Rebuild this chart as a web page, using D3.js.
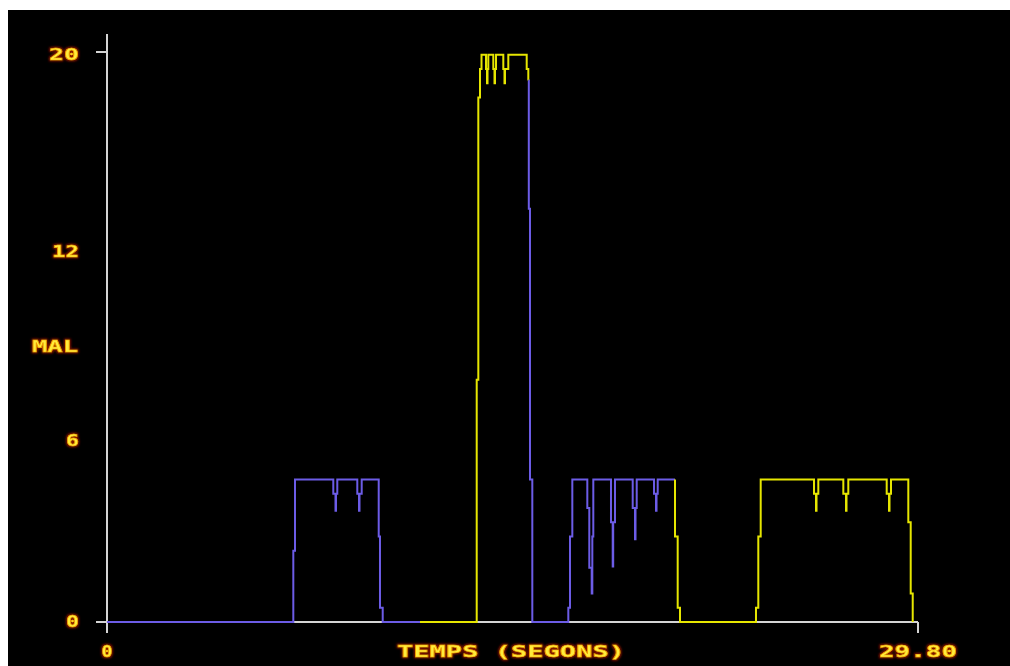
<!DOCTYPE html>
<html>
<head>
<meta charset="utf-8">
<script src="https://cdn.jsdelivr.net/npm/d3@7"></script>
<style>
  html, body { margin: 0; padding: 0; background: #fff; }
  svg { display: block; }
</style>
</head>
<body>
<div id="vis-canvas"></div>
<script>
const outerWidth = 1010;
const outerHeight = 666;

// ** data: [temps (s), mal] -- one array per stretch of the trace, by colour
const blau1 = [[0, 0], [6.846, 2.5], [6.908, 5], [8.315, 4.5], [8.396, 3.9], [8.415, 4.5],
    [8.462, 5], [9.197, 4.5], [9.260, 3.9], [9.278, 4.5], [9.359, 5], [9.984, 3.0],
    [10.031, 0.5], [10.131, 0], [11.501, 0]];
const groc1 = [[11.501, 0], [13.585, 8.5], [13.644, 18.4], [13.706, 19.4], [13.761, 19.9],
    [13.926, 19.4], [13.963, 18.9], [13.982, 19.4], [14.011, 19.9],
    [14.195, 19.4], [14.239, 18.9], [14.257, 19.4], [14.294, 19.9],
    [14.562, 19.4], [14.606, 18.9], [14.624, 19.4], [14.746, 19.9],
    [15.422, 19.4], [15.481, 19.0]];
const blau2 = [[15.481, 19.0], [15.499, 14.5], [15.543, 5], [15.628, 0], [16.951, 0.5],
    [17.013, 3.0], [17.098, 5], [17.649, 4.0], [17.722, 1.9], [17.810, 1.0], [17.833, 3.0],
    [17.869, 5], [18.519, 3.5], [18.582, 1.95], [18.600, 3.5], [18.666, 5],
    [19.317, 4.0], [19.401, 2.9], [19.420, 4.0], [19.464, 5],
    [20.100, 4.5], [20.173, 3.9], [20.192, 4.5], [20.236, 5], [20.871, 5]];
const groc2 = [[20.871, 5], [20.871, 3.0], [20.970, 0.5], [21.055, 0], [23.847, 0.5],
    [23.932, 3.0], [24.020, 5], [25.979, 4.5], [26.052, 3.9], [26.071, 4.5], [26.137, 5],
    [27.056, 4.5], [27.155, 3.9], [27.173, 4.5], [27.239, 5],
    [28.650, 4.5], [28.735, 3.9], [28.753, 4.5], [28.808, 5],
    [29.444, 3.5], [29.532, 1.0], [29.606, 0]];

const tempsMax = 29.80;
const malMax = 20;
// y labels as the original program printed them, with the value level where each sits
const yLabels = ["0", "6", "12", "20"];
const yLabelLevels = [0, 6.35, 13.0, 20];
const xLabels = ["0", "29.80"];

const blue = "#6c5ce6";
const yellow = "#e6e600";
const axisColor = "#d4d4d4";

const svg = d3.select("#vis-canvas").append("svg")
    .attr("width", outerWidth)
    .attr("height", outerHeight);

// glow for the old-screen lettering
const defs = svg.append("defs");
const glow = defs.append("filter").attr("id", "glow")
    .attr("x", "-20%").attr("y", "-50%").attr("width", "140%").attr("height", "200%");
glow.append("feMorphology").attr("in", "SourceAlpha").attr("operator", "dilate")
    .attr("radius", 1.2).attr("result", "thick");
glow.append("feGaussianBlur").attr("in", "thick").attr("stdDeviation", 1).attr("result", "blur");
glow.append("feFlood").attr("flood-color", "#8a1400");
glow.append("feComposite").attr("in2", "blur").attr("operator", "in").attr("result", "halo");
const merge = glow.append("feMerge");
merge.append("feMergeNode").attr("in", "halo");
merge.append("feMergeNode").attr("in", "SourceGraphic");

// black screen, leaves a white strip top and left
svg.append("rect")
    .attr("x", 8).attr("y", 10)
    .attr("width", outerWidth - 8).attr("height", outerHeight - 10)
    .attr("fill", "#000");

const x = d3.scaleLinear().domain([0, tempsMax]).range([107, 918]);
const y = d3.scaleLinear().domain([0, malMax]).range([622, 52]);

// ** axes
const axes = svg.append("g")
    .attr("stroke", axisColor)
    .attr("stroke-width", 2)
    .attr("fill", "none");

axes.append("line")   // y axis
    .attr("x1", x(0)).attr("x2", x(0))
    .attr("y1", y(malMax) - 18).attr("y2", y(0) + 11);
axes.append("line")   // x axis
    .attr("x1", x(0)).attr("x2", x(tempsMax))
    .attr("y1", y(0)).attr("y2", y(0));
axes.append("line")   // end tick
    .attr("x1", x(tempsMax)).attr("x2", x(tempsMax))
    .attr("y1", y(0)).attr("y2", y(0) + 11);
axes.selectAll(".ytick")
    .data([0, malMax])
    .join("line")
    .attr("class", "ytick")
    .attr("x1", x(0) - 11).attr("x2", x(0))
    .attr("y1", d => y(d)).attr("y2", d => y(d));

// ** trace
const line = d3.line()
    .x(d => x(d[0]))
    .y(d => y(d[1]))
    .curve(d3.curveStepAfter);

const segments = [
    {pts: blau1, color: blue},
    {pts: groc1, color: yellow},
    {pts: blau2, color: blue},
    {pts: groc2, color: yellow}
];

svg.append("g")
    .selectAll("path")
    .data(segments)
    .join("path")
    .attr("d", d => line(d.pts))
    .attr("fill", "none")
    .attr("stroke", d => d.color)
    .attr("stroke-width", 2)
    .attr("stroke-linejoin", "miter");

// ** labels
function label(txt, cx, cy, w, anchor) {
    svg.append("text")
        .attr("x", cx)
        .attr("y", cy)
        .attr("dy", "0.36em")
        .attr("text-anchor", anchor || "middle")
        .attr("font-family", "DejaVu Sans Mono")
        .attr("font-weight", "bold")
        .attr("font-size", 15)
        .attr("textLength", w)
        .attr("lengthAdjust", "spacingAndGlyphs")
        .attr("fill", "#ffec3a")
        .attr("stroke", "#f09a00")
        .attr("stroke-width", 0.5)
        .attr("filter", "url(#glow)")
        .text(txt);
}

const yLabelWidth = {"0": 13, "6": 13, "12": 27, "20": 30};
yLabels.forEach((t, i) => label(t, 79, y(yLabelLevels[i]) + (i == 3 ? 3 : 0), yLabelWidth[t], "end"));
label("MAL", 55, 347, 46);

label(xLabels[0], x(0), 652, 11);
label(xLabels[1], x(tempsMax), 652, 78);
label("TEMPS (SEGONS)", 511, 652, 228);
</script>
</body>
</html>
